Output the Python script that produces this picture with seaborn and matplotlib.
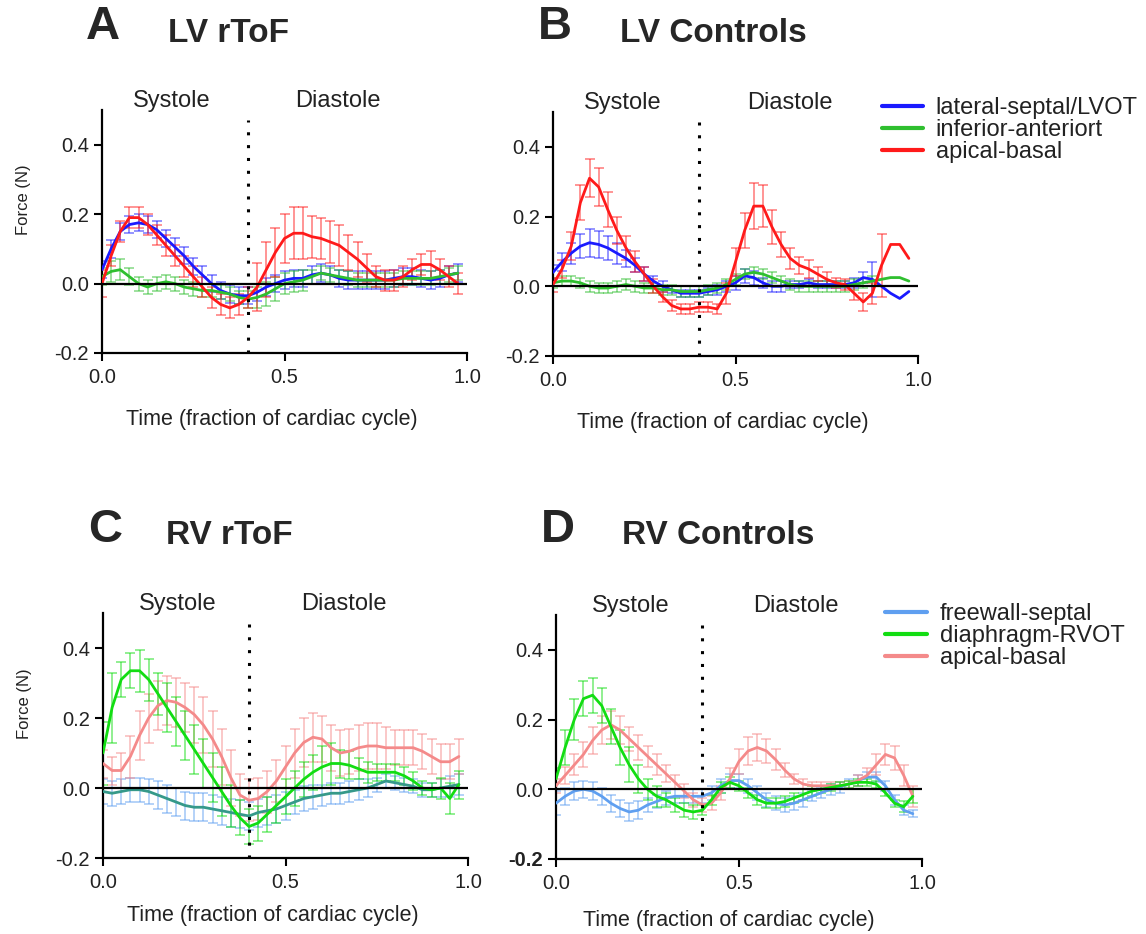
import numpy as np
import pandas as pd
import matplotlib
matplotlib.use("Agg")
import matplotlib.pyplot as plt
from matplotlib.lines import Line2D
import seaborn as sns

# time axis: fraction of cardiac cycle
time = np.arange(40) * 0.025

# ---- A: LV rToF ----
lv_rtof_lat = [0.04, 0.10, 0.15, 0.17, 0.175, 0.17, 0.155, 0.13, 0.105, 0.08, 0.05, 0.025, 0.0, -0.02,
               -0.03, -0.035, -0.035, -0.025, -0.01, 0.0, 0.01, 0.015, 0.015, 0.025, 0.03, 0.025, 0.015,
               0.01, 0.01, 0.01, 0.01, 0.01, 0.015, 0.02, 0.02, 0.015, 0.01, 0.015, 0.025, 0.03]
lv_rtof_lat_err = [0.025] * 40
lv_rtof_inf = [0.02, 0.035, 0.04, 0.02, 0.0, -0.01, 0.0, 0.005, 0.0, -0.01, -0.015, -0.02, -0.02, -0.025,
               -0.03, -0.04, -0.045, -0.04, -0.03, -0.015, 0.0, 0.005, 0.01, 0.02, 0.03, 0.025, 0.02,
               0.015, 0.01, 0.01, 0.01, 0.01, 0.01, 0.015, 0.015, 0.015, 0.015, 0.02, 0.025, 0.03]
lv_rtof_inf_err = [0.025, 0.03, 0.03, 0.025, 0.02, 0.02, 0.02, 0.02, 0.02, 0.02, 0.02, 0.02, 0.02, 0.02,
                   0.02, 0.02, 0.025, 0.03, 0.035, 0.035, 0.03, 0.03, 0.03, 0.02, 0.02, 0.02, 0.02,
                   0.02, 0.02, 0.02, 0.02, 0.02, 0.02, 0.02, 0.02, 0.02, 0.02, 0.02, 0.02, 0.02]
lv_rtof_api = [0.0, 0.08, 0.15, 0.19, 0.19, 0.17, 0.14, 0.11, 0.08, 0.05, 0.02, -0.01, -0.04, -0.06,
               -0.07, -0.06, -0.04, -0.01, 0.04, 0.09, 0.13, 0.145, 0.145, 0.135, 0.13, 0.12, 0.11,
               0.09, 0.07, 0.045, 0.02, 0.01, 0.01, 0.02, 0.04, 0.055, 0.055, 0.04, 0.02, 0.0]
lv_rtof_api_err = [0.04, 0.03, 0.03, 0.03, 0.03, 0.03, 0.03, 0.03, 0.03, 0.03, 0.03, 0.03, 0.03, 0.03,
                   0.03, 0.03, 0.03, 0.07, 0.08, 0.07, 0.07, 0.075, 0.075, 0.06, 0.06, 0.06, 0.06,
                   0.05, 0.05, 0.04, 0.03, 0.03, 0.03, 0.03, 0.03, 0.03, 0.04, 0.03, 0.03, 0.03]

# ---- B: LV Controls ----
lv_ctrl_lat = [0.04, 0.07, 0.095, 0.115, 0.125, 0.12, 0.11, 0.095, 0.08, 0.06, 0.035, 0.015, 0.0, -0.01,
               -0.02, -0.02, -0.02, -0.015, -0.01, 0.0, 0.01, 0.03, 0.025, 0.01, 0.0, 0.0, 0.005,
               0.005, 0.01, 0.005, 0.005, 0.005, 0.005, 0.01, 0.025, 0.02, 0.0, -0.02, -0.035, -0.015]
lv_ctrl_lat_err = [0.02, 0.025, 0.03, 0.035, 0.04, 0.04, 0.035, 0.03, 0.025, 0.02, 0.02, 0.015, 0.015, 0.01,
                   0.01, 0.01, 0.01, 0.01, 0.015, 0.015, 0.02, 0.02, 0.02, 0.015, 0.015, 0.015, 0.01,
                   0.01, 0.01, 0.01, 0.01, 0.01, 0.01, 0.015, 0.015, 0.05, 0.0, 0.0, 0.0, 0.0]
lv_ctrl_inf = [0.01, 0.015, 0.015, 0.01, 0.0, -0.005, -0.005, 0.0, 0.005, 0.0, -0.005, -0.005, -0.01, -0.01,
               -0.015, -0.015, -0.015, -0.01, -0.005, 0.005, 0.02, 0.035, 0.04, 0.035, 0.025, 0.015,
               0.005, 0.0, 0.0, 0.0, 0.0, 0.0, 0.0, 0.005, 0.01, 0.015, 0.02, 0.025, 0.025, 0.015]
lv_ctrl_inf_err = [0.015] * 36 + [0.0, 0.0, 0.0, 0.0]
lv_ctrl_api = [0.005, 0.05, 0.115, 0.24, 0.31, 0.285, 0.22, 0.16, 0.11, 0.07, 0.035, 0.0, -0.03, -0.055,
               -0.065, -0.065, -0.06, -0.06, -0.065, -0.02, 0.07, 0.16, 0.23, 0.23, 0.17, 0.12, 0.08,
               0.06, 0.05, 0.035, 0.02, 0.01, 0.005, -0.02, -0.045, -0.02, 0.06, 0.12, 0.12, 0.08]
lv_ctrl_api_err = [0.02, 0.025, 0.04, 0.05, 0.055, 0.055, 0.05, 0.04, 0.035, 0.03, 0.02, 0.02, 0.015, 0.015,
                   0.015, 0.015, 0.015, 0.015, 0.015, 0.03, 0.04, 0.05, 0.065, 0.06, 0.05, 0.035, 0.03,
                   0.025, 0.025, 0.02, 0.02, 0.015, 0.015, 0.02, 0.025, 0.03, 0.09, 0.0, 0.0, 0.0]

# ---- C: RV rToF ----
rv_rtof_free = [-0.01, -0.015, -0.01, -0.005, -0.005, -0.01, -0.02, -0.03, -0.04, -0.05, -0.055, -0.055,
                -0.06, -0.065, -0.07, -0.075, -0.08, -0.07, -0.065, -0.06, -0.05, -0.04, -0.03, -0.025,
                -0.02, -0.015, -0.015, -0.01, -0.005, 0.0, 0.01, 0.02, 0.015, 0.01, 0.005, -0.005,
                -0.005, 0.0, 0.005, 0.01]
rv_rtof_free_err = [0.035, 0.035, 0.035, 0.035, 0.035, 0.035, 0.04, 0.04, 0.04, 0.04, 0.04, 0.04, 0.04,
                    0.04, 0.04, 0.04, 0.04, 0.04, 0.04, 0.04, 0.04, 0.035, 0.035, 0.035, 0.03, 0.03, 0.03,
                    0.03, 0.03, 0.025, 0.02, 0.02, 0.02, 0.02, 0.02, 0.02, 0.02, 0.025, 0.03, 0.03]
rv_rtof_dia = [0.1, 0.23, 0.31, 0.335, 0.335, 0.31, 0.27, 0.23, 0.19, 0.15, 0.11, 0.07, 0.03, -0.01,
               -0.05, -0.085, -0.11, -0.1, -0.075, -0.05, -0.025, 0.0, 0.025, 0.045, 0.06, 0.07, 0.07,
               0.065, 0.055, 0.045, 0.045, 0.045, 0.045, 0.035, 0.02, 0.0, -0.005, 0.0, -0.03, 0.01]
rv_rtof_dia_err = [0.09, 0.1, 0.05, 0.05, 0.06, 0.06, 0.06, 0.07, 0.07, 0.07, 0.07, 0.07, 0.07, 0.07,
                   0.06, 0.05, 0.05, 0.05, 0.05, 0.05, 0.05, 0.05, 0.05, 0.05, 0.06, 0.06, 0.04, 0.04,
                   0.03, 0.03, 0.025, 0.025, 0.025, 0.025, 0.025, 0.02, 0.02, 0.03, 0.045, 0.04]
rv_rtof_api = [0.07, 0.05, 0.05, 0.09, 0.15, 0.2, 0.235, 0.25, 0.245, 0.23, 0.21, 0.18, 0.14, 0.09, 0.03,
               -0.02, -0.035, -0.03, -0.01, 0.02, 0.06, 0.1, 0.13, 0.145, 0.14, 0.115, 0.1, 0.105, 0.115,
               0.12, 0.12, 0.115, 0.115, 0.115, 0.115, 0.105, 0.09, 0.075, 0.075, 0.09]
rv_rtof_api_err = [0.04, 0.04, 0.05, 0.06, 0.07, 0.07, 0.07, 0.07, 0.07, 0.07, 0.08, 0.08, 0.08, 0.08,
                   0.08, 0.06, 0.06, 0.06, 0.06, 0.06, 0.06, 0.07, 0.07, 0.07, 0.065, 0.065, 0.065,
                   0.065, 0.065, 0.065, 0.065, 0.06, 0.05, 0.05, 0.05, 0.05, 0.05, 0.05, 0.05, 0.05]

# ---- D: RV Controls ----
rv_ctrl_free = [-0.04, -0.02, -0.005, 0.0, -0.005, -0.02, -0.04, -0.055, -0.065, -0.06, -0.045, -0.035,
                -0.025, -0.02, -0.02, -0.02, -0.02, -0.01, 0.01, 0.025, 0.025, 0.01, -0.01, -0.03, -0.04,
                -0.045, -0.04, -0.03, -0.02, -0.01, 0.0, 0.005, 0.015, 0.025, 0.035, 0.035, 0.01, -0.03,
                -0.06, -0.07]
rv_ctrl_free_err = [0.035, 0.025, 0.025, 0.025, 0.025, 0.025, 0.025, 0.025, 0.025, 0.025, 0.02, 0.02,
                    0.02, 0.02, 0.02, 0.02, 0.02, 0.02, 0.02, 0.02, 0.02, 0.02, 0.02, 0.02, 0.02, 0.02,
                    0.02, 0.02, 0.015, 0.015, 0.015, 0.015, 0.015, 0.015, 0.015, 0.015, 0.015, 0.015,
                    0.015, 0.01]
rv_ctrl_dia = [0.03, 0.12, 0.2, 0.26, 0.27, 0.24, 0.18, 0.12, 0.07, 0.03, 0.0, -0.02, -0.03, -0.045,
               -0.06, -0.065, -0.06, -0.03, 0.005, 0.02, 0.01, -0.01, -0.03, -0.04, -0.04, -0.035,
               -0.025, -0.015, -0.005, 0.0, 0.005, 0.01, 0.015, 0.02, 0.02, 0.015, -0.01, -0.04, -0.05,
               -0.02]
rv_ctrl_dia_err = [0.03, 0.05, 0.06, 0.05, 0.05, 0.05, 0.05, 0.05, 0.05, 0.04, 0.03, 0.03, 0.02, 0.02,
                   0.02, 0.02, 0.015, 0.015, 0.015, 0.015, 0.015, 0.015, 0.015, 0.015, 0.015, 0.015,
                   0.015, 0.015, 0.015, 0.01, 0.01, 0.01, 0.01, 0.01, 0.01, 0.01, 0.01, 0.01, 0.015, 0.02]
rv_ctrl_api = [0.01, 0.04, 0.07, 0.1, 0.14, 0.17, 0.185, 0.17, 0.145, 0.12, 0.095, 0.07, 0.045, 0.02,
               -0.005, -0.03, -0.045, -0.04, -0.01, 0.03, 0.08, 0.11, 0.12, 0.11, 0.085, 0.055, 0.03,
               0.015, 0.01, 0.01, 0.01, 0.01, 0.015, 0.025, 0.04, 0.07, 0.1, 0.09, 0.04, -0.02]
rv_ctrl_api_err = [0.02, 0.025, 0.03, 0.035, 0.04, 0.04, 0.04, 0.04, 0.035, 0.035, 0.03, 0.03, 0.025, 0.02,
                   0.02, 0.02, 0.02, 0.02, 0.02, 0.03, 0.035, 0.04, 0.04, 0.035, 0.03, 0.02, 0.015,
                   0.015, 0.01, 0.01, 0.01, 0.01, 0.01, 0.015, 0.02, 0.03, 0.03, 0.035, 0.03, 0.03]

lv_labels = ["lateral-septal/LVOT", "inferior-anteriort", "apical-basal"]
rv_labels = ["freewall-septal", "diaphragm-RVOT", "apical-basal"]
lv_colors = ["#1a1aff", "#2fbf2f", "#ff1a1a"]
rv_colors = ["#5f9ff0", "#12dd12", "#f48a8a"]

sns.set_style("ticks")
plt.rcParams['font.family'] = ['Liberation Sans', 'DejaVu Sans']

W, H = 1146, 934
fig = plt.figure(figsize=(W / 100, H / 100), dpi=100)


def px_axes(left, right, top, bottom):
    return fig.add_axes([left / W, 1 - bottom / H, (right - left) / W, (bottom - top) / H])


def draw_panel(ax, series, colors, line_colors, sys_x, dia_x, xlab_x, xlab_y, bold_low=False):
    for (label, mean, err), col, lcol in zip(series, colors, line_colors):
        df = pd.DataFrame({"t": time, "f": mean, "e": err})
        keep = df["e"] > 0
        ax.errorbar(df.t[keep], df.f[keep], yerr=df.e[keep], fmt="none", ecolor=col,
                    alpha=0.5, elinewidth=1.3, capsize=3.5, capthick=1.3, zorder=2)
        sns.lineplot(data=df, x="t", y="f", ax=ax, color=lcol, lw=2, zorder=3,
                     estimator=None, sort=False)
    ax.axhline(0, color="black", lw=1.6, zorder=4)
    ax.plot([0.4, 0.4], [-0.2, 0.47], color="black", lw=2.2, ls=(0, (1, 3.2)),
            zorder=5, clip_on=False)
    ax.set_xlim(0, 1)
    ax.set_ylim(-0.2, 0.5)
    ax.set_xticks([0.0, 0.5, 1.0])
    ax.set_yticks([-0.2, 0.0, 0.2, 0.4])
    ax.set_xticklabels(["0.0", "0.5", "1.0"])
    ax.set_yticklabels(["-0.2", "0.0", "0.2", "0.4"])
    if bold_low:
        ax.get_yticklabels()[0].set_fontweight("bold")
    ax.tick_params(labelsize=14.5, length=6, width=1.5, color="black", labelcolor="#222222")
    ax.tick_params(axis="x", pad=5)
    for s in ["left", "bottom"]:
        ax.spines[s].set_linewidth(1.6)
        ax.spines[s].set_color("black")
    sns.despine(ax=ax)
    ax.text(sys_x, 0.525, "Systole", ha="center", va="center", fontsize=17, color="#222222")
    ax.text(dia_x, 0.525, "Diastole", ha="center", va="center", fontsize=17, color="#222222")
    ax.set_xlabel("Time (fraction of cardiac cycle)", fontsize=15.5, color="#222222")
    ax.xaxis.set_label_coords(xlab_x, xlab_y)
    ax.set_ylabel("")


ax_a = px_axes(102, 467, 110, 353)
ax_b = px_axes(553, 918, 112, 356)
ax_c = px_axes(103, 468, 613, 858)
ax_d = px_axes(556, 922, 615, 859)

draw_panel(ax_a, [(lv_labels[0], lv_rtof_lat, lv_rtof_lat_err),
                  (lv_labels[1], lv_rtof_inf, lv_rtof_inf_err),
                  (lv_labels[2], lv_rtof_api, lv_rtof_api_err)],
           lv_colors, lv_colors, 0.19, 0.647, 0.466, -0.23)
draw_panel(ax_b, [(lv_labels[0], lv_ctrl_lat, lv_ctrl_lat_err),
                  (lv_labels[1], lv_ctrl_inf, lv_ctrl_inf_err),
                  (lv_labels[2], lv_ctrl_api, lv_ctrl_api_err)],
           lv_colors, lv_colors, 0.19, 0.65, 0.466, -0.23)
draw_panel(ax_c, [(rv_labels[0], rv_rtof_free, rv_rtof_free_err),
                  (rv_labels[2], rv_rtof_api, rv_rtof_api_err),
                  (rv_labels[1], rv_rtof_dia, rv_rtof_dia_err)],
           [rv_colors[0], rv_colors[2], rv_colors[1]],
           ["#35998a", rv_colors[2], rv_colors[1]], 0.205, 0.66, 0.466, -0.19)
draw_panel(ax_d, [(rv_labels[0], rv_ctrl_free, rv_ctrl_free_err),
                  (rv_labels[2], rv_ctrl_api, rv_ctrl_api_err),
                  (rv_labels[1], rv_ctrl_dia, rv_ctrl_dia_err)],
           [rv_colors[0], rv_colors[2], rv_colors[1]],
           [rv_colors[0], rv_colors[2], rv_colors[1]], 0.203, 0.655, 0.471, -0.21, bold_low=True)

for ax in (ax_a, ax_c):
    ax.set_ylabel("Force (N)", fontsize=12, color="#222222")
    ax.yaxis.set_label_coords(-0.195, 0.63)

for ax, labels, cols, anchor in ((ax_b, lv_labels, lv_colors, 1.06),
                                 (ax_d, rv_labels, rv_colors, 1.05)):
    handles = [Line2D([], [], color=c, lw=3) for c in cols]
    ax.legend(handles, labels, loc="upper left", bbox_to_anchor=(0.9, anchor), frameon=False,
              fontsize=17, handlelength=1.75, handletextpad=0.55, labelspacing=0.0,
              borderpad=0, borderaxespad=0, labelcolor="#222222")

# panel letters and titles
for letter, lx, title, tx, y in (("A", 103, "LV rToF", 168, 27), ("B", 555, "LV Controls", 620, 27),
                                 ("C", 105, "RV rToF", 166, 530), ("D", 558, "RV Controls", 622, 530)):
    fig.text(lx / W, 1 - y / H, letter, fontsize=34, fontweight="bold", ha="center", va="center")
    fig.text(tx / W, 1 - (y + 6) / H, title, fontsize=24, fontweight="bold", ha="left", va="center")

fig.savefig("out.png", dpi=100)
